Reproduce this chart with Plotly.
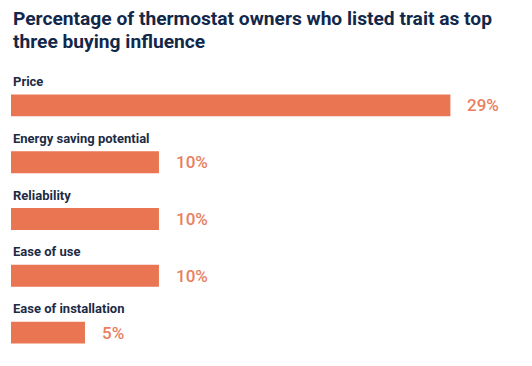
import plotly.graph_objects as go

categories = ["Price", "Energy saving potential", "Reliability", "Ease of use", "Ease of installation"]
values = [29.7, 10, 10, 10, 5]
value_labels = ["29%", "10%", "10%", "10%", "5%"]
title_lines = ["Percentage of thermostat owners who listed trait as top", "three buying influence"]

BAR = "#ea7553"
VAL = "#e8805f"
DARK = "#12284a"
LAB = "#1d2b45"

ypos = list(range(len(categories)))

fig = go.Figure(go.Bar(
    x=values, y=ypos, orientation="h",
    marker=dict(color=BAR, line=dict(width=0)),
    width=0.386, hoverinfo="skip",
))

for i, (c, v, t) in enumerate(zip(categories, values, value_labels)):
    fig.add_annotation(x=0, y=i, xref="x", yref="y", text=f"<b>{c}</b>",
                       showarrow=False, xanchor="left", yanchor="middle", yshift=24,
                       font=dict(family="Roboto", size=13, color=LAB))
    fig.add_annotation(x=v, y=i, xref="x", yref="y", text=t,
                       showarrow=False, xanchor="left", yanchor="middle", xshift=15,
                       font=dict(family="Roboto", size=17, color=VAL, weight=500))

for line, shift in zip(title_lines, [58.5, 35.5]):
    fig.add_annotation(x=0, y=1, xref="paper", yref="paper", text=f"<b>{line}</b>",
                       showarrow=False, xanchor="left", yanchor="middle", align="left",
                       yshift=shift, font=dict(family="Roboto", size=19.2, color=DARK))

fig.update_layout(
    width=532, height=366,
    margin=dict(l=11, r=18, t=76.5, b=4.5),
    paper_bgcolor="white", plot_bgcolor="white",
    xaxis=dict(range=[0, 34], visible=False, fixedrange=True),
    yaxis=dict(range=[4.5, -0.5], visible=False, fixedrange=True),
    showlegend=False,
)

fig.write_html("out.html", config={"displayModeBar": False},
               post_script="document.body.style.margin='0';")
